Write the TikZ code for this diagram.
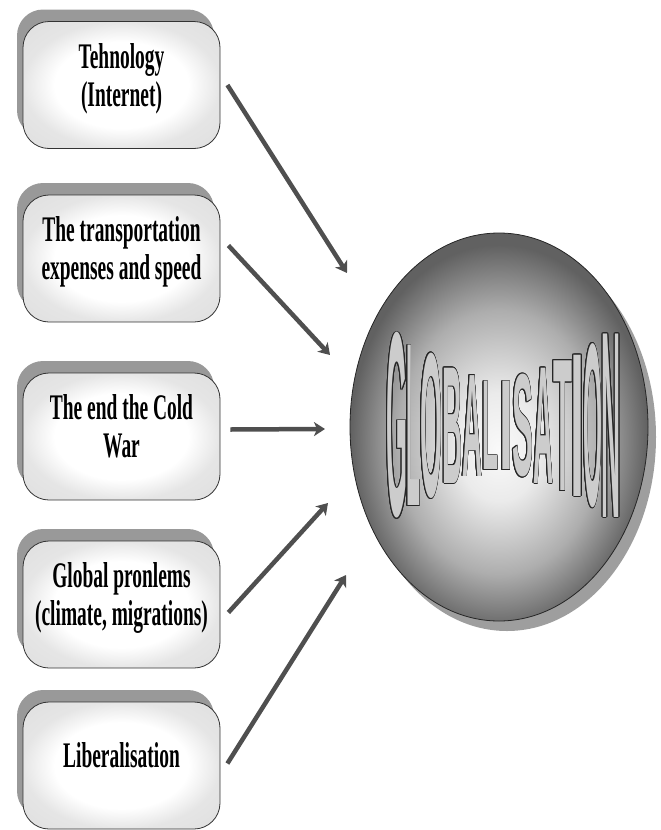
\documentclass[tikz,border=0pt]{standalone}
\usepackage{fontspec}
\usepackage{contour}
\usetikzlibrary{shapes.geometric,shadows,arrows.meta}
\newfontfamily\boxfont[FakeStretch=0.54]{Liberation Serif}
\newfontfamily\gfont{Liberation Sans}
\contourlength{0.8pt}
% light middle of the globe, a little under its centre
\pgfdeclareradialshading{globeshade}{\pgfpoint{0bp}{-3bp}}{color(0bp)=(black!2);
  color(7bp)=(black!8); color(17bp)=(black!32); color(25bp)=(black!62); color(50bp)=(black!64)}
% white boxes going a little grey at the rim
\pgfdeclareradialshading{boxshade}{\pgfpoint{0bp}{0bp}}{color(0bp)=(white);
  color(17bp)=(white); color(25bp)=(black!10); color(50bp)=(black!16)}
% one warped letter of the word in the globe: size, stretch, letter
\newcommand\globeletter[3]{{\gfont\bfseries\fontsize{#1pt}{#1pt}\selectfont
  \edef\tmpfeat{\noexpand\addfontfeatures{FakeStretch=#2}}\tmpfeat
  \color{black!20}\contour{black!85}{#3}}}
\begin{document}
\begin{tikzpicture}[x=1pt,y=-1pt,
	cause/.style={draw=black!80,line width=0.8pt,rounded corners=26pt,shading=boxshade,
		minimum width=197pt,minimum height=127pt,inner sep=0pt,align=center,text depth=20pt,
		drop shadow={shadow xshift=-6pt,shadow yshift=12pt,fill=black!40,opacity=1},
		font=\boxfont\bfseries\fontsize{36}{38}\selectfont},
	globe/.style={ellipse,draw=black!85,line width=0.8pt,
		minimum width=298pt,minimum height=388pt,inner sep=0pt,shading=globeshade,
		drop shadow={shadow xshift=8pt,shadow yshift=-10pt,fill=black!38,opacity=1}},
	arr/.style={draw=black!69,line width=4.5pt,-{Stealth[length=11pt,width=14pt,inset=3pt]}}]
	\useasboundingbox (0,0) rectangle (661,830);
	
	%boxes on the left
	\node[cause] (tech) at (121.5,85) {Tehnology\\(Internet)}; %box 1
	\node[cause] (trans) at (121.5,258.5) {The transportation\\expenses and speed}; %box 2
	\node[cause] (cold) at (121.5,436.5) {The end the Cold\\War}; %box 3
	\node[cause] (probs) at (121.5,604.5) {Global pronlems\\(climate, migrations)}; %box 4
	\node[cause] (lib) at (121.5,765.5) {Liberalisation}; %box 5
	
	%globe
	\node[globe] (globe) at (499,427) {};
	%word in the globe, letter by letter: letter/x/width/height/advance
	\foreach \ch/\cx/\w/\h/\adv in {G/397/21/188/0.778,L/413/14/167/0.611,O/431/22/147/0.778,
		B/452/20/120/0.722,A/472/20/105/0.722,L/490/16/92/0.611,I/506/14/92/0.278,
		S/522.5/21/104/0.667,A/543/20/120/0.722,T/562.5/19/135/0.611,I/577.5/14/147/0.278,
		O/592.5/19/166/0.778,N/611/19/191/0.722}{
		\pgfmathsetmacro\fs{\h/0.716}
		\pgfmathsetmacro\st{\w/(\adv*\fs)}
		\node[inner sep=0pt] at (\cx,426) {\globeletter{\fs}{\st}{\ch}};
	}
	
	%arrow tips
	\coordinate (t1) at (347,273);
	\coordinate (t2) at (330,355);
	\coordinate (t3) at (325,429);
	\coordinate (t4) at (328,503);
	\coordinate (t5) at (346,575);
	
	%arrows
	\draw[arr] ([xshift=7pt]tech.east) -- (t1);
	\draw[arr] ([shift={(8pt,13pt)}]trans.east) -- (t2);
	\draw[arr] ([shift={(10pt,7pt)}]cold.east) -- (t3);
	\draw[arr] ([shift={(8pt,-8pt)}]probs.east) -- (t4);
	\draw[arr] ([shift={(7pt,2pt)}]lib.east) -- (t5);
\end{tikzpicture}
\end{document}
